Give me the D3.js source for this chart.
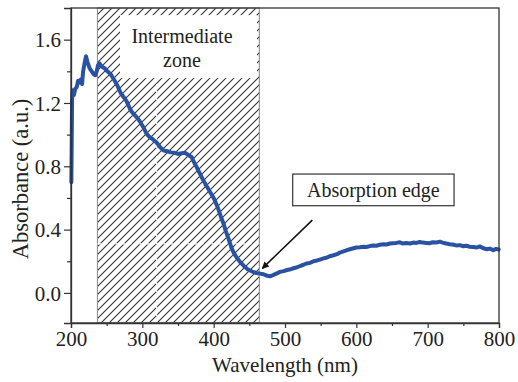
<!DOCTYPE html>
<html>
<head>
<meta charset="utf-8">
<script src="https://cdn.jsdelivr.net/npm/d3@7"></script>
<style>
  html, body { margin: 0; padding: 0; background: #fff; }
  svg { display: block; }
  text { font-family: "Liberation Serif", "Times New Roman", serif; fill: #222; }
</style>
</head>
<body>
<svg id="chart" width="518" height="382"></svg>
<script>
// ---------- data ----------
const wavelength = [200.5,201,201.5,202.5,204,206,208,210,212,214,215.5,217,219,221,223,226,229,232,234,236,238,240,243,247,251,255,260,265,270,275,278,282,285,290,294,297,301,306,310,315,320,325,330,335,340,345,350,355,360,365,369,372,376,380,385,390,395,400,405,408,411,414,417,421,425,428,432,437,442,448,454,460,465,470,475,479,483,488,493,498,503,508,512,517,521,526,530,535,540,545,549,554,559,563,568,573,577,582,587,591,596,600,605,610,614,619,624,628,633,638,642,647,651,656,661,665,670,675,680,684,689,693,698,703,707,712,717,721,726,731,735,740,745,750,754,759,764,769,773,778,783,787,792,796,799.5];
const absorbance = [0.70,0.95,1.22,1.28,1.25,1.29,1.30,1.34,1.33,1.35,1.32,1.40,1.45,1.495,1.46,1.42,1.40,1.38,1.375,1.40,1.44,1.45,1.43,1.42,1.40,1.385,1.35,1.31,1.26,1.23,1.21,1.17,1.145,1.12,1.10,1.08,1.05,1.005,0.985,0.97,0.95,0.92,0.90,0.895,0.888,0.885,0.878,0.882,0.885,0.87,0.859,0.83,0.796,0.76,0.715,0.675,0.638,0.60,0.548,0.51,0.47,0.435,0.39,0.34,0.285,0.255,0.225,0.196,0.172,0.148,0.135,0.126,0.122,0.118,0.108,0.105,0.112,0.122,0.133,0.138,0.145,0.150,0.156,0.162,0.170,0.178,0.186,0.190,0.200,0.205,0.211,0.218,0.224,0.232,0.238,0.245,0.255,0.262,0.270,0.276,0.282,0.287,0.289,0.292,0.290,0.296,0.300,0.298,0.304,0.308,0.306,0.312,0.314,0.316,0.320,0.312,0.315,0.312,0.318,0.316,0.322,0.318,0.316,0.314,0.320,0.318,0.324,0.318,0.312,0.308,0.306,0.300,0.302,0.295,0.298,0.292,0.290,0.287,0.294,0.282,0.276,0.280,0.270,0.278,0.274];

const xTicks = [200, 300, 400, 500, 600, 700, 800];
const xMinorTicks = [250, 350, 450, 550, 650, 750];
const yTicks = [0.0, 0.4, 0.8, 1.2, 1.6];
const yMinorTicks = [0.2, 0.6, 1.0, 1.4];

const zoneRange = [237, 464];            // hatched "intermediate zone" (nm)
const zoneLabel = ["Intermediate", "zone"];
const edgeLabel = "Absorption edge";
const xTitle = "Wavelength (nm)";
const yTitle = "Absorbance (a.u.)";

// ---------- layout ----------
const W = 518, H = 382;
const m = { left: 71, right: 19, top: 8, bottom: 59 };
const svg = d3.select("#chart");

const x = d3.scaleLinear().domain([200, 800]).range([m.left, W - m.right]);
const y = d3.scaleLinear().domain([-0.19, 1.8]).range([H - m.bottom, m.top]);

// hatch pattern
const defs = svg.append("defs");
const pat = defs.append("pattern")
  .attr("id", "hatch").attr("patternUnits", "userSpaceOnUse")
  .attr("width", 8).attr("height", 8);
pat.append("path")
  .attr("d", "M-2,2 L2,-2 M0,8 L8,0 M6,10 L10,6")
  .attr("stroke", "#333").attr("stroke-width", 1.1);

// hatched zone
svg.append("rect")
  .attr("x", x(zoneRange[0])).attr("y", y(1.8))
  .attr("width", x(zoneRange[1]) - x(zoneRange[0]))
  .attr("height", y(-0.19) - y(1.8))
  .attr("fill", "url(#hatch)")
  .attr("stroke", "#888").attr("stroke-width", 1);

// faint white dashed guide lines inside the zone
svg.append("line")
  .attr("x1", x(320)).attr("x2", x(320))
  .attr("y1", y(1.357)).attr("y2", y(-0.19))
  .attr("stroke", "#fff").attr("stroke-width", 1.2).attr("stroke-dasharray", "4,2");
svg.append("line")
  .attr("x1", x(zoneRange[0])).attr("x2", x(zoneRange[1]))
  .attr("y1", y(0.31)).attr("y2", y(0.31))
  .attr("stroke", "#fff").attr("stroke-width", 1.2).attr("stroke-dasharray", "4,2");

// white label box
svg.append("rect")
  .attr("x", x(268.7)).attr("y", y(1.755))
  .attr("width", x(460.8) - x(268.7))
  .attr("height", y(1.357) - y(1.755))
  .attr("fill", "#fff");
svg.append("text")
  .attr("x", x(355.6)).attr("y", y(1.578))
  .attr("text-anchor", "middle").attr("font-size", 20)
  .text(zoneLabel[0]);
svg.append("text")
  .attr("x", x(355.6)).attr("y", y(1.427))
  .attr("text-anchor", "middle").attr("font-size", 20)
  .text(zoneLabel[1]);

// curve
const pts = wavelength.map((w, i) => [w, absorbance[i]]);
svg.append("path")
  .datum(pts)
  .attr("fill", "none")
  .attr("stroke", "#2a52a2")
  .attr("stroke-width", 4)
  .attr("stroke-linejoin", "round")
  .attr("stroke-linecap", "round")
  .attr("d", d3.line().x(d => x(d[0])).y(d => y(d[1])));

// frame
svg.append("rect")
  .attr("x", m.left).attr("y", m.top)
  .attr("width", W - m.left - m.right).attr("height", H - m.top - m.bottom)
  .attr("fill", "none").attr("stroke", "#333").attr("stroke-width", 1.3);

// axes
const xAxis = svg.append("g").attr("transform", `translate(0,${H - m.bottom})`)
  .call(d3.axisBottom(x).tickValues(xTicks).tickSize(5).tickFormat(d3.format("d")));
svg.append("g").attr("transform", `translate(0,${H - m.bottom})`)
  .call(d3.axisBottom(x).tickValues(xMinorTicks).tickSize(3).tickFormat(""))
  .call(g => g.select(".domain").remove());
xAxis.selectAll("text").attr("y", 23).attr("dy", 0).attr("font-size", 21)
  .style("font-family", "Liberation Serif").attr("fill", "#222");

const yAxis = svg.append("g").attr("transform", `translate(${m.left},0)`)
  .call(d3.axisLeft(y).tickValues(yTicks).tickSize(7).tickPadding(3).tickFormat(d3.format(".1f")));
svg.append("g").attr("transform", `translate(${m.left},0)`)
  .call(d3.axisLeft(y).tickValues(yMinorTicks).tickSize(4).tickFormat(""))
  .call(g => g.select(".domain").remove());
yAxis.selectAll("text").attr("font-size", 21).attr("dy", "0.34em")
  .style("font-family", "Liberation Serif").attr("fill", "#222");
svg.selectAll(".domain").attr("stroke", "#333").attr("stroke-width", 1.3);
svg.selectAll(".tick line").attr("stroke", "#333").attr("stroke-width", 1.2);

// axis titles
svg.append("text")
  .attr("x", (x(200) + x(800)) / 2).attr("y", 372)
  .attr("text-anchor", "middle").attr("font-size", 21)
  .text(xTitle);
svg.append("text")
  .attr("transform", `translate(28,179) rotate(-90)`)
  .attr("text-anchor", "middle").attr("font-size", 22.5)
  .text(yTitle);

// annotation box + arrow
defs.append("marker")
  .attr("id", "arrow").attr("viewBox", "0 0 10 10")
  .attr("refX", 9).attr("refY", 5)
  .attr("markerWidth", 10).attr("markerHeight", 7)
  .attr("markerUnits", "userSpaceOnUse")
  .attr("orient", "auto")
  .append("path").attr("d", "M0,0 L10,5 L0,10 z").attr("fill", "#111");

svg.append("rect")
  .attr("x", x(510.8)).attr("y", y(0.751))
  .attr("width", x(737) - x(510.8))
  .attr("height", y(0.551) - y(0.751))
  .attr("fill", "#fff").attr("stroke", "#333").attr("stroke-width", 1.2);
svg.append("text")
  .attr("x", (x(510.8) + x(737)) / 2).attr("y", y(0.605))
  .attr("text-anchor", "middle").attr("font-size", 20)
  .text(edgeLabel);
svg.append("line")
  .attr("x1", x(538.3)).attr("y1", y(0.46))
  .attr("x2", x(468.2)).attr("y2", y(0.155))
  .attr("stroke", "#111").attr("stroke-width", 1.5)
  .attr("marker-end", "url(#arrow)");
</script>
</body>
</html>
